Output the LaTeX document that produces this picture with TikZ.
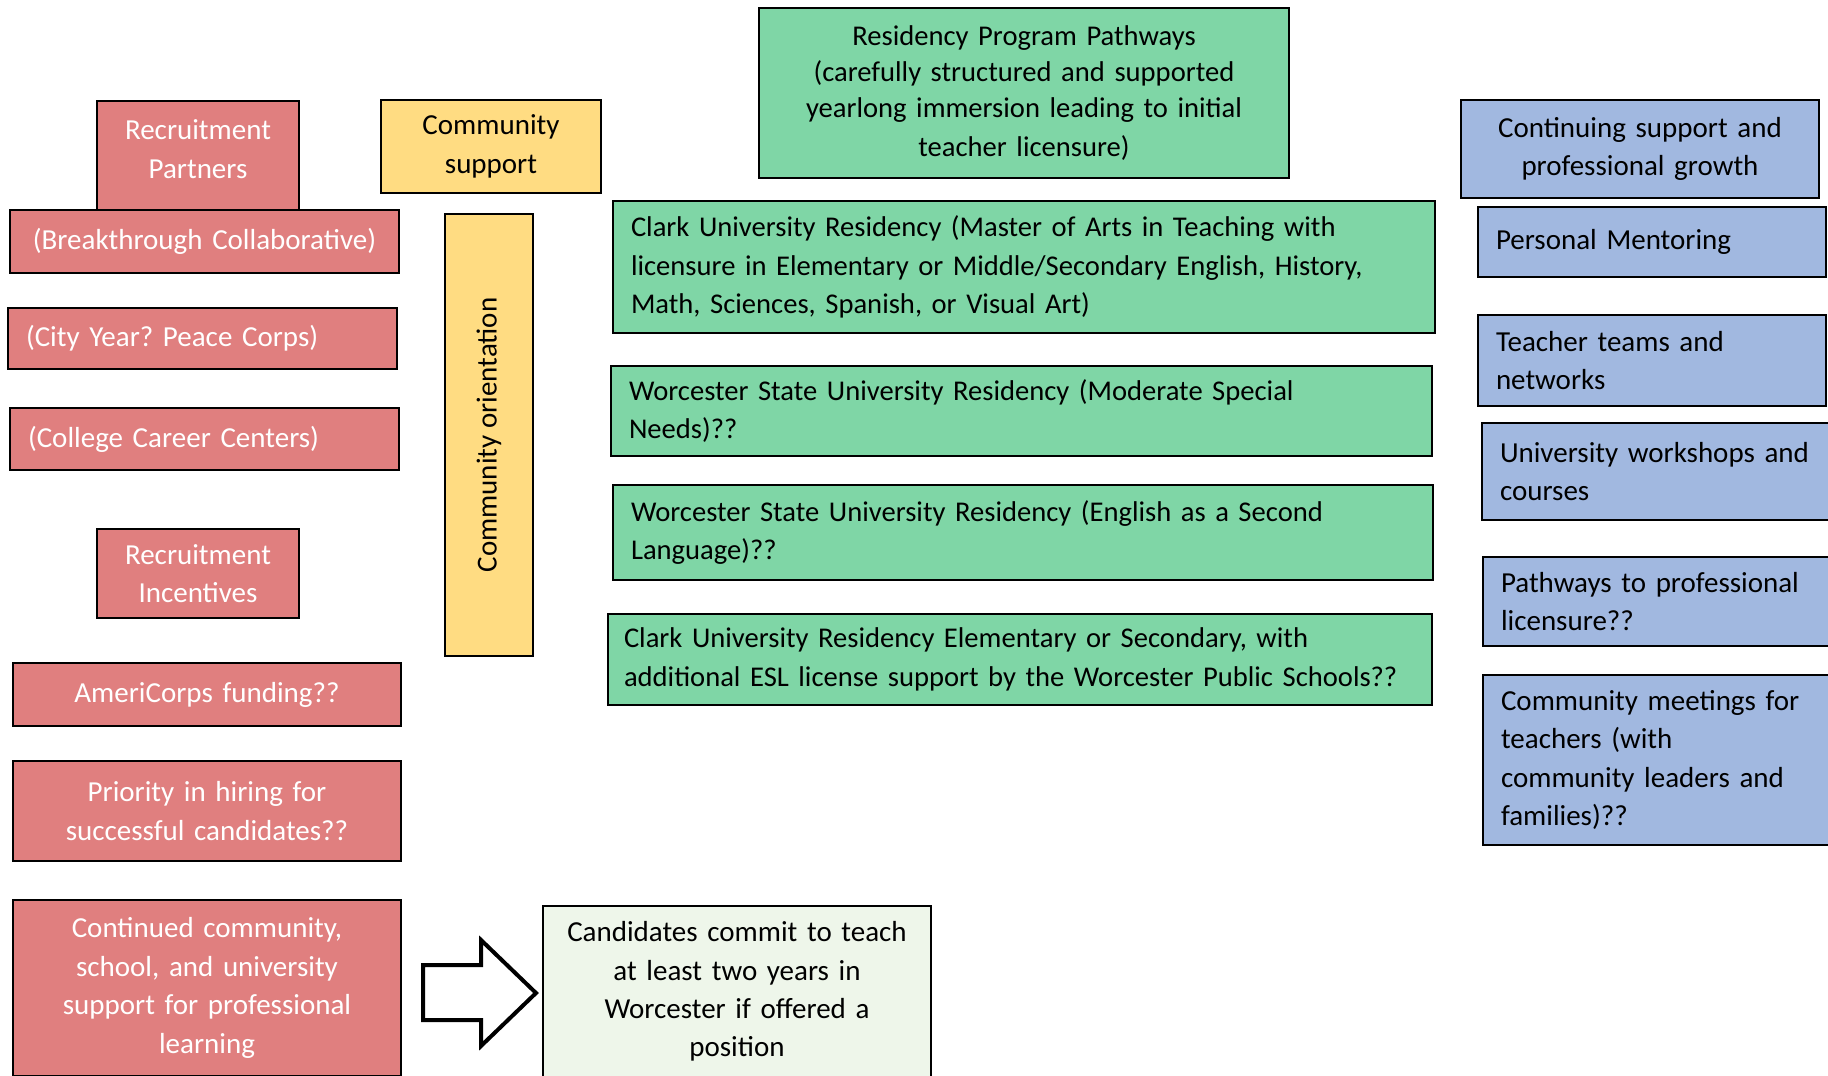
\documentclass[tikz,border=0pt]{standalone}
\usepackage{fontspec}
\setmainfont{Carlito}
\frenchspacing
\definecolor{redf}{RGB}{224,127,127}
\definecolor{yelf}{RGB}{255,220,130}
\definecolor{grnf}{RGB}{127,214,166}
\definecolor{bluf}{RGB}{161,184,224}
\definecolor{lgrf}{RGB}{238,246,234}
\tikzset{
  base/.style={draw=black, line width=1pt, font=\fontsize{14.5}{19.2}\selectfont},
  redbox/.style={base, fill=redf, text=white},
  yelbox/.style={base, fill=yelf},
  grnbox/.style={base, fill=grnf, font=\fontsize{14.3}{19.2}\selectfont},
  blubox/.style={base, fill=bluf},
  lgrbox/.style={base, fill=lgrf},
  cen/.style={align=center},
  lft/.style={align=left},
}
\newcommand\bx[8]{%
  \pgfmathsetmacro\mybw{(#5-#3)*0.5}%
  \pgfmathsetmacro\mybh{(#6-#4)*0.5}%
  \pgfmathsetmacro\mytw{(#5-#3)*0.5-2*#7}%
  \node[#2, anchor=north west, minimum width=\mybw pt, minimum height=\mybh pt,
        text width=\mytw pt, inner xsep=#7pt, inner ysep=0pt] (#1) at (#3,#4) {#8};}
\begin{document}
\begin{tikzpicture}[x=0.5pt,y=-0.5pt]
\useasboundingbox (0,0) rectangle (1828,1076);
% red column
\bx{rp}{redbox,cen}{96}{100}{298}{210}{4}{Recruitment\\Partners\par\vspace*{7pt}}
\bx{bc}{redbox,cen}{9}{209}{398}{272}{4}{(Breakthrough Collaborative)}
\bx{cy}{redbox,lft}{7}{307}{396}{368}{9}{(City Year? Peace Corps)}
\bx{cc}{redbox,lft}{9}{407}{398}{469}{9}{(College Career Centers)}
\bx{ri}{redbox,cen}{96}{528}{298}{617}{4}{Recruitment\\Incentives}
\bx{ac}{redbox,cen}{12}{662}{400}{725}{4}{AmeriCorps funding??}
\bx{ph}{redbox,cen}{12}{760}{400}{860}{4}{Priority in hiring for\\successful candidates??}
\bx{cs}{redbox,cen}{12}{899}{400}{1075}{4}{Continued community,\\school, and university\\support for professional\\learning}
% yellow
\bx{cms}{yelbox,cen}{380}{99}{600}{192}{4}{Community\\support}
\node[yelbox, rotate=90, minimum width=221pt, minimum height=44pt, inner sep=0pt] (co) at (489,435) {Community orientation};
% green
\bx{rpp}{grnbox,cen}{758}{7}{1288}{177}{4}{\baselineskip=18pt Residency Program Pathways\\(carefully structured and supported\\yearlong immersion leading to initial\\teacher licensure)}
\bx{cur}{grnbox,lft}{612}{200}{1434}{332}{9}{Clark University Residency (Master of Arts in Teaching with\\licensure in Elementary or Middle/Secondary English, History,\\Math, Sciences, Spanish, or Visual Art)}
\bx{wsm}{grnbox,lft}{610}{365}{1431}{455}{9}{Worcester State University Residency (Moderate Special\\Needs)??}
\bx{wse}{grnbox,lft}{612}{484}{1432}{579}{9}{Worcester State University Residency (English as a Second\\Language)??}
\bx{cue}{grnbox,lft}{607}{613}{1431}{704}{8}{Clark University Residency Elementary or Secondary, with\\additional ESL license support by the Worcester Public Schools??}
% light green
\bx{cand}{lgrbox,cen}{542}{905}{930}{1076}{4}{Candidates commit to teach\\at least two years in\\Worcester if offered a\\position}
% blue
\bx{csg}{blubox,cen}{1460}{99}{1818}{197}{4}{Continuing support and\\professional growth}
\bx{pm}{blubox,lft}{1477}{206}{1825}{276}{9}{Personal Mentoring\par\vspace*{4pt}}
\bx{tt}{blubox,lft}{1477}{314}{1825}{405}{9}{Teacher teams and\\networks}
\bx{uw}{blubox,lft}{1481}{422}{1840}{519}{9}{University workshops and\\courses}
\bx{pl}{blubox,lft}{1482}{556}{1840}{645}{9}{Pathways to professional\\licensure??}
\bx{cmt}{blubox,lft}{1482}{674}{1840}{844}{9}{Community meetings for\\teachers (with\\community leaders and\\families)??}
% block arrow
\draw[line width=2pt, fill=white, line join=miter]
  (423,965) -- (481,965) -- (481,940) -- (536,993) -- (481,1046) -- (481,1020) -- (423,1020) -- cycle;
\end{tikzpicture}
\end{document}
